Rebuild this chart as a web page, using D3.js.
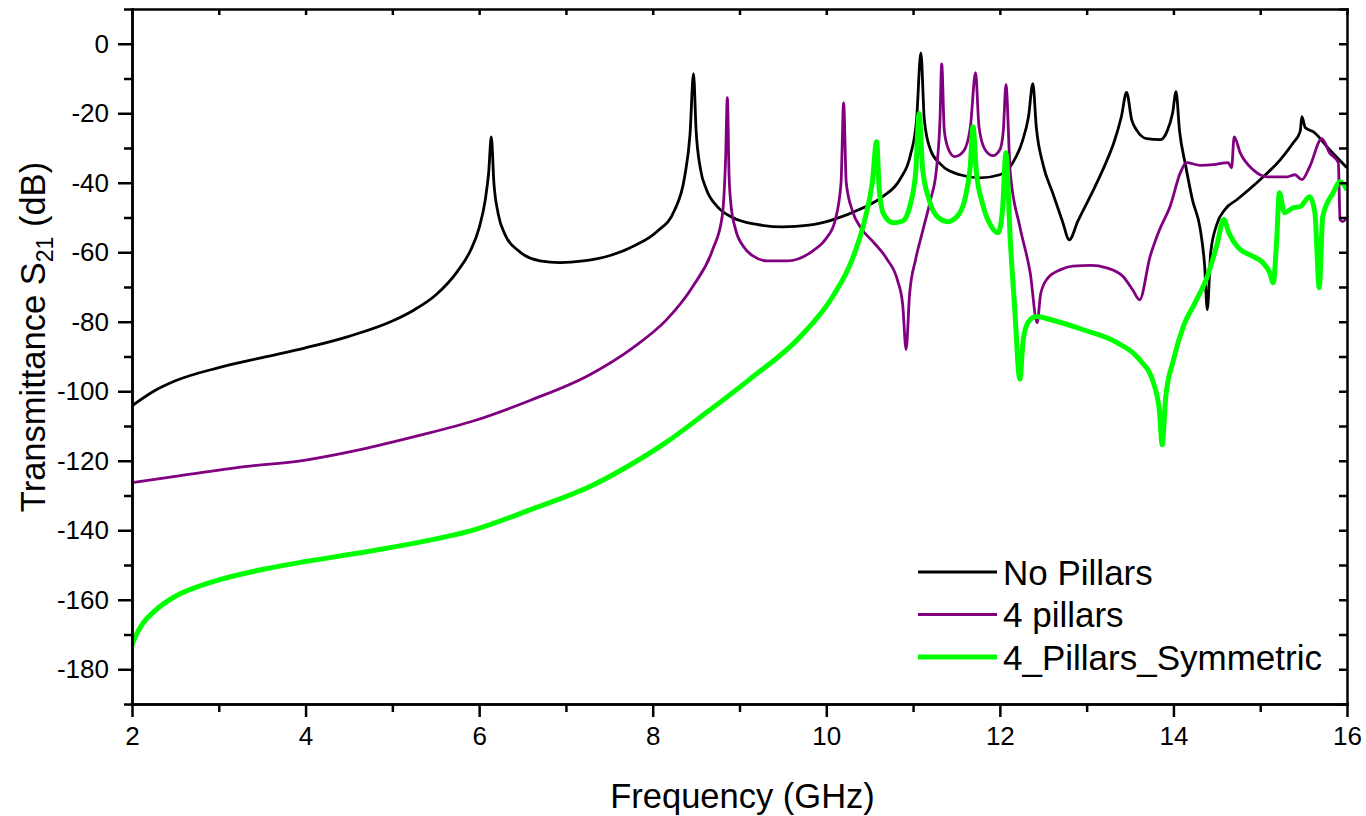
<!DOCTYPE html>
<html>
<head>
<meta charset="utf-8">
<script src="https://cdn.jsdelivr.net/npm/d3@7"></script>
<style>
  body { margin: 0; background: #fff; }
  svg { display: block; font-family: "Liberation Sans", Arial, sans-serif; }
  .axis path, .axis line { stroke: #000; stroke-width: 2.5; }
  .axis text { font-size: 26px; fill: #000; }
</style>
</head>
<body>
<div id="chart"></div>
<script>
var svgWidth = 1366;
var svgHeight = 816;

var margin = { top: 9, right: 19, bottom: 112, left: 132 };
var width = svgWidth - margin.left - margin.right;
var height = svgHeight - margin.top - margin.bottom;

// x ticks (GHz) and y ticks (dB)
var xMajorTicks = [2, 4, 6, 8, 10, 12, 14, 16];
var xMinorTicks = [3, 5, 7, 9, 11, 13, 15];
var yMajorTicks = [0, -20, -40, -60, -80, -100, -120, -140, -160, -180];
var yMinorTicks = [10, -10, -30, -50, -70, -90, -110, -130, -150, -170, -190];

var seriesNames = ["No Pillars", "4 pillars", "4_Pillars_Symmetric"];
var seriesColors = ["#000000", "#800080", "#00ff00"];
var seriesWidths = [2.8, 2.8, 5];

// No Pillars
var noPillarsFreq = [2.0, 2.25, 2.5, 3.0, 3.5, 4.0, 4.5, 5.0, 5.25, 5.5, 5.75, 5.9, 6.0, 6.07, 6.11, 6.14, 6.17, 6.22, 6.3, 6.45, 6.7, 6.93,
  7.2, 7.5, 7.8, 8.05, 8.25, 8.37, 8.43, 8.47, 8.5, 8.55, 8.62, 8.75, 8.92, 9.2, 9.5, 9.8, 10.08, 10.4, 10.65, 10.85, 10.97, 11.04, 11.09,
  11.13, 11.2, 11.31, 11.54, 11.77, 12.0, 12.15, 12.26, 12.33, 12.38, 12.42, 12.5, 12.61, 12.72, 12.8, 12.9, 13.05, 13.2, 13.32, 13.4, 13.46,
  13.52, 13.58, 13.69, 13.85, 13.93, 13.99, 14.03, 14.07, 14.14, 14.22, 14.31, 14.36, 14.39, 14.43, 14.5, 14.6, 14.73, 14.96, 15.23, 15.38,
  15.46, 15.48, 15.52, 15.61, 15.8, 16.0];
var noPillarsDb = [-104.2, -100, -97, -93.2, -90.3, -87.5, -84.2, -79.8, -76.6, -72.3, -65.5, -59.5, -53, -45, -37, -26.8, -40, -49, -55, -59.5, -62.5, -63,
  -62.5, -61, -58, -54, -48, -38, -26, -8.6, -25, -36, -42, -47, -50, -52, -52.7, -52.2, -50.6, -47.5, -44, -39, -32, -22, -2.6,
  -22, -30.5, -34.5, -37.7, -38.6, -37.7, -34.2, -28, -21, -11.5, -24, -35, -43, -51, -56.4, -51, -43.5, -35.5, -28, -21, -14,
  -22, -25, -27.3, -27.6, -25, -20, -13.8, -25, -35, -45, -53.5, -64, -76.5, -60, -52, -47.5, -44.9, -40, -33.4, -28.5,
  -25.3, -21, -24.2, -25.3, -30.5, -35.7];

// 4 pillars
var fourPillarsFreq = [2.0, 2.5, 3.3, 4.0, 4.63, 5.3, 5.94, 6.6, 7.27, 7.77, 8.16, 8.46, 8.69, 8.8, 8.84, 8.86, 8.88, 8.9, 8.95, 9.05,
  9.15, 9.32, 9.55, 9.85, 10.0, 10.1, 10.17, 10.2, 10.23, 10.3, 10.4, 10.54, 10.7, 10.82, 10.88, 10.92, 10.96, 11.03, 11.12, 11.2, 11.27,
  11.31, 11.33, 11.36, 11.41, 11.48, 11.58, 11.66, 11.72, 11.76, 11.83, 11.92, 12.0, 12.04, 12.07, 12.12, 12.23, 12.35, 12.43, 12.47,
  12.55, 12.7, 12.84, 13.05, 13.23, 13.42, 13.53, 13.61, 13.73, 13.84, 13.96, 14.08, 14.15, 14.31, 14.46, 14.63, 14.67, 14.7, 14.77,
  14.92, 15.08, 15.31, 15.4, 15.48, 15.57, 15.71, 15.8, 15.9, 15.92, 15.95, 16.0];
var fourPillarsDb = [-126.3, -124.5, -121.7, -119.8, -116.8, -112.8, -108.5, -102.5, -95.3, -87.5, -79.4, -69.9, -59.3, -49.8, -33, -15.5, -38, -46, -53, -58.5,
  -61, -62.5, -62.5, -59.5, -56, -51, -40, -17, -40, -48, -53, -57, -62, -68, -75, -88, -72, -62, -53, -45, -36,
  -22, -5.8, -25, -30.5, -32.5, -31, -24, -8.3, -24, -30.5, -32.2, -30.5, -25, -11.8, -37.1, -52.6, -66, -80.3, -72,
  -67.5, -65, -64, -63.8, -64.5, -67, -70.8, -73.7, -61.3, -53.5, -46.9, -37.1, -34.2, -35, -34.8, -34.2, -35.7, -26.8, -31.4,
  -36.3, -38.3, -38.3, -37.7, -39.1, -35.4, -27.3, -31.4, -34.2, -50.6, -51.2, -50];

// 4_Pillars_Symmetric
var symPillarsFreq = [2.0, 2.05, 2.12, 2.25, 2.5, 2.75, 3.0, 3.5, 4.0, 4.63, 5.3, 5.94, 6.6, 7.27, 7.7, 8.15, 8.6, 9.12, 9.7, 10.08, 10.3, 10.45,
  10.53, 10.58, 10.61, 10.66, 10.77, 10.88, 10.97, 11.03, 11.07, 11.11, 11.18, 11.27, 11.4, 11.53, 11.62, 11.66, 11.69, 11.73, 11.8, 11.9,
  11.98, 12.03, 12.07, 12.12, 12.17, 12.23, 12.27, 12.33, 12.42, 12.6, 12.96, 13.35, 13.61, 13.77, 13.84, 13.87, 13.91, 14.0, 14.12,
  14.25, 14.39, 14.5, 14.58, 14.64, 14.74, 14.9, 15.03, 15.11, 15.15, 15.19, 15.22, 15.28, 15.38, 15.46, 15.57, 15.63, 15.68, 15.72,
  15.84, 15.92, 16.0];
var symPillarsDb = [-173, -170, -167, -163.5, -159, -156.3, -154.3, -151.3, -149, -146.5, -143.5, -139.9, -134, -127.5, -121.8, -114.8, -106.5, -96.5, -84.3, -72.5, -62, -50,
  -40, -28.2, -42, -49, -51.5, -51, -46, -37, -20.1, -36, -44.5, -49.5, -51.2, -49, -42, -35, -23.9, -37, -46, -52.5,
  -54.4, -48, -31.4, -56.4, -75.7, -96.5, -85, -80, -78.5, -79.5, -82.3, -86, -90.9, -97.6, -106, -115.4, -102, -91, -81,
  -74.5, -67, -58, -50.6, -54.5, -58.5, -61, -63, -65.9, -68.8, -56.4, -42.9, -48.6, -47.2, -46.9, -44, -48.6, -70.2, -49.8,
  -42.9, -39.7, -42];

var seriesData = [
  d3.zip(noPillarsFreq, noPillarsDb),
  d3.zip(fourPillarsFreq, fourPillarsDb),
  d3.zip(symPillarsFreq, symPillarsDb)
];

var svg = d3.select("#chart")
    .append("svg")
    .attr("width", svgWidth)
    .attr("height", svgHeight);

var chartGroup = svg.append("g")
    .attr("transform", `translate(${margin.left}, ${margin.top})`);

var xScale = d3.scaleLinear().domain([2, 16]).range([0, width]);
var yScale = d3.scaleLinear().domain([-190, 10]).range([height, 0]);

// plain hyphen for negatives, as in the original
var tickText = d => String(d);

chartGroup.append("clipPath")
    .attr("id", "plotClip")
    .append("rect")
    .attr("width", width)
    .attr("height", height);

var line = d3.line()
    .x(d => xScale(d[0]))
    .y(d => yScale(d[1]))
    .curve(d3.curveMonotoneX);

chartGroup.append("g")
    .attr("clip-path", "url(#plotClip)")
    .selectAll("path")
    .data(seriesData)
    .enter()
    .append("path")
    .attr("d", line)
    .attr("fill", "none")
    .attr("stroke", (d, i) => seriesColors[i])
    .attr("stroke-width", (d, i) => seriesWidths[i])
    .attr("stroke-linejoin", "round");

// frame: top and right with inward ticks
chartGroup.append("g")
    .attr("class", "axis")
    .call(d3.axisBottom(xScale).tickValues(xMajorTicks.concat(xMinorTicks)).tickSize(6).tickFormat("").tickSizeOuter(0));

chartGroup.append("g")
    .attr("class", "axis")
    .attr("transform", `translate(${width}, 0)`)
    .call(d3.axisLeft(yScale).tickValues(yMajorTicks.concat(yMinorTicks)).tickSize(8).tickFormat("").tickSizeOuter(0));

// bottom axis
chartGroup.append("g")
    .attr("class", "axis")
    .attr("transform", `translate(0, ${height})`)
    .call(d3.axisBottom(xScale).tickValues(xMinorTicks).tickSize(8).tickFormat("").tickSizeOuter(0));

chartGroup.append("g")
    .attr("class", "axis")
    .attr("transform", `translate(0, ${height})`)
    .call(d3.axisBottom(xScale).tickValues(xMajorTicks).tickSize(13).tickPadding(10).tickFormat(tickText).tickSizeOuter(0));

// left axis
chartGroup.append("g")
    .attr("class", "axis")
    .call(d3.axisLeft(yScale).tickValues(yMinorTicks).tickSize(8).tickFormat("").tickSizeOuter(0));

chartGroup.append("g")
    .attr("class", "axis")
    .call(d3.axisLeft(yScale).tickValues(yMajorTicks).tickSize(14).tickPadding(9).tickFormat(tickText).tickSizeOuter(0));

chartGroup.selectAll(".axis .domain").attr("stroke-linecap", "square");

// axis titles
svg.append("text")
    .attr("x", margin.left + width / 2 + 3)
    .attr("y", 808)
    .attr("text-anchor", "middle")
    .attr("font-size", "34.5px")
    .text("Frequency (GHz)");

var yTitle = svg.append("text")
    .attr("transform", "translate(45, 337) rotate(-90)")
    .attr("text-anchor", "middle")
    .attr("font-size", "34.5px");
yTitle.append("tspan").text("Transmittance S");
yTitle.append("tspan").attr("font-size", "23px").attr("dy", 8).text("21");
yTitle.append("tspan").attr("dy", -8).text(" (dB)");

// legend
var legend = svg.append("g");
var legendRows = legend.selectAll("g")
    .data(seriesNames)
    .enter()
    .append("g")
    .attr("transform", (d, i) => `translate(918, ${572 + i * 42.5})`);

legendRows.append("line")
    .attr("x1", 0)
    .attr("x2", 79)
    .attr("stroke", (d, i) => seriesColors[i])
    .attr("stroke-width", (d, i) => seriesWidths[i]);

legendRows.append("text")
    .attr("x", 85)
    .attr("y", 12.5)
    .attr("font-size", "35px")
    .text(d => d);
</script>
</body>
</html>
